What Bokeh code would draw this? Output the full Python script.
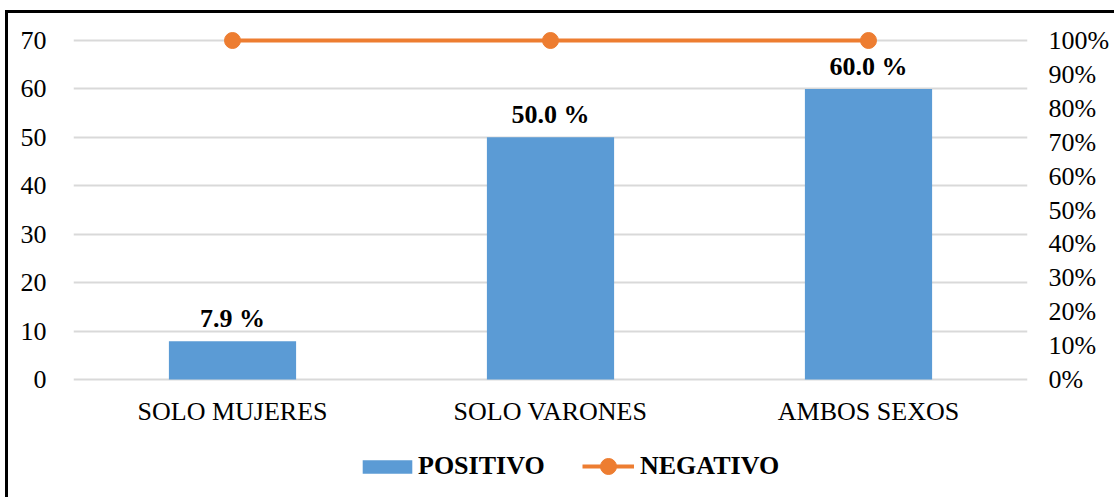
from bokeh.plotting import figure
from bokeh.models import (ColumnDataSource, FactorRange, Range1d, LinearAxis,
                          FixedTicker, PrintfTickFormatter, Legend, LegendItem)
from bokeh.core.properties import value
from bokeh.embed import file_html
from bokeh.resources import INLINE

categories = ["SOLO MUJERES", "SOLO VARONES", "AMBOS SEXOS"]
positivo = [7.9, 50.0, 60.0]
negativo = [100, 100, 100]
left_ticks = [0, 10, 20, 30, 40, 50, 60, 70]
right_ticks = [0, 10, 20, 30, 40, 50, 60, 70, 80, 90, 100]

FONT = "Liberation Serif"
BLUE = "#5B9BD5"
ORANGE = "#ED7D31"
GRID = "#D9D9D9"
FS = "26px"

src = ColumnDataSource(dict(
    cat=categories,
    pos=positivo,
    neg=negativo,
    base=[0, 0, 0],
    lbl=[f"{v:.1f} %" for v in positivo],
))

# plot area runs from 30px to 500px; the 0..70 scale spans 339px of it
frame_h = 470
px_per_unit = 339 / 70
y_top = 10 / px_per_unit + 70
y_bot = y_top - frame_h / px_per_unit

p = figure(
    x_range=FactorRange(*categories, range_padding=0),
    y_range=Range1d(y_bot, y_top),
    width=1109, height=487,
    output_backend="svg", toolbar_location=None,
    x_axis_location=None,
    min_border_left=65, min_border_right=90,
    min_border_top=17, min_border_bottom=0,
)
p.margin = (10, 0, 0, 5)
p.styles = {"border-left": "3px solid #000", "border-top": "3px solid #000"}
p.outline_line_color = None
p.background_fill_color = "white"

# secondary scale for the percentage line (same pixels, 70 -> 100%)
p.extra_y_ranges = {"pct": Range1d(y_bot / 70 * 100, y_top / 70 * 100)}

bars = p.vbar(x="cat", top="pos", width=0.4, source=src,
              fill_color=BLUE, line_color=None)
line = p.line(x="cat", y="neg", source=src, y_range_name="pct",
              line_color=ORANGE, line_width=4)
dots = p.scatter(x="cat", y="neg", source=src, y_range_name="pct",
                 size=16, fill_color=ORANGE, line_color=ORANGE)

# value labels above the bars
p.text(x="cat", y="pos", text="lbl", source=src,
       text_font=value(FONT), text_font_style="bold", text_font_size=FS,
       text_align="center", text_baseline="bottom", y_offset=-8,
       text_color="black")

# category labels under the baseline
p.text(x="cat", y="base", text="cat", source=src,
       text_font=value(FONT), text_font_size=FS,
       text_align="center", text_baseline="top", y_offset=17,
       text_color="black")

# left axis
la = p.yaxis[0]
la.ticker = FixedTicker(ticks=left_ticks)
la.axis_line_color = None
la.major_tick_line_color = None
la.minor_tick_line_color = None
la.major_label_text_font = FONT
la.major_label_text_font_size = FS
la.major_label_text_color = "black"
la.major_label_standoff = 21

# right axis
ra = LinearAxis(y_range_name="pct", ticker=FixedTicker(ticks=right_ticks),
                formatter=PrintfTickFormatter(format="%d%%"))
ra.axis_line_color = None
ra.major_tick_line_color = None
ra.minor_tick_line_color = None
ra.major_label_text_font = FONT
ra.major_label_text_font_size = FS
ra.major_label_text_color = "black"
ra.major_label_standoff = 15
p.add_layout(ra, "right")

p.xgrid.grid_line_color = None
p.ygrid.ticker = FixedTicker(ticks=left_ticks)
p.ygrid.grid_line_color = GRID
p.ygrid.grid_line_width = 2

legend_style = dict(
    orientation="horizontal",
    label_text_font=FONT, label_text_font_style="bold",
    label_text_font_size=FS, label_text_color="black",
    padding=0, margin=0,
    border_line_color=None, background_fill_alpha=0,
)
# bar swatch and line+marker swatch need different glyph sizes
legend_pos = Legend(items=[LegendItem(label="POSITIVO", renderers=[bars])],
                    location=(283, 19), glyph_width=62, glyph_height=17,
                    label_standoff=0, **legend_style)
legend_neg = Legend(items=[LegendItem(label="NEGATIVO", renderers=[line, dots])],
                    location=(509, 14), glyph_width=52, glyph_height=40,
                    label_standoff=6, **legend_style)
p.add_layout(legend_pos, "center")
p.add_layout(legend_neg, "center")

open("out.html", "w").write(file_html(p, INLINE))
